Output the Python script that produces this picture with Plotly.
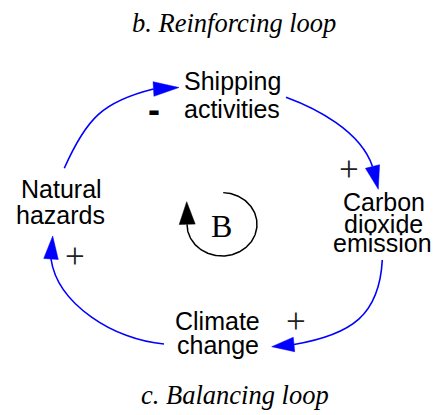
import numpy as np
import plotly.graph_objects as go

# ---------------- content ----------------
title_top = "b. Reinforcing loop"
title_bottom = "c. Balancing loop"
shipping_lines = ["Shipping", "activities"]
carbon_lines = ["Carbon", "dioxide", "emission"]
climate_lines = ["Climate", "change"]
hazard_lines = ["Natural", "hazards"]
link_polarity = ["-", "+", "+", "+"]   # hazards->shipping, shipping->CO2, CO2->climate, climate->hazards
loop_label = "B"

# ---------------- geometry (pixel space of a 439x415 canvas) ----------------
W, H = 439, 415
shipping_pos = [(232.5, 80.7), (232.0, 108.7)]
carbon_pos = [(383.8, 201.7), (383.0, 223.8), (382.8, 243.3)]
climate_pos = [(217.5, 320.5), (217.5, 345.0)]
hazard_pos = [(61.7, 188.7), (60.8, 215.0)]
polarity_pos = [(153.8, 112.0), (348.5, 172.0), (296.0, 323.9), (75.0, 258.8)]

# cubic Bezier links: P0, P1, P2, back-of-arrowhead, tip
links = [
    [(64.3, 168.3), (86.3, 118.3), (103.0, 101.5), (153.5, 89.0), (179.0, 87.5)],
    [(286.0, 97.3), (316.0, 108.3), (360.5, 131.0), (372.5, 166.5), (378.3, 189.3)],
    [(382.3, 260.0), (379.3, 315.0), (352.0, 334.5), (294.0, 344.5), (271.7, 346.7)],
    [(164.0, 344.0), (114.0, 340.0), (57.5, 304.0), (51.0, 259.0), (52.7, 236.0)],
]

BLUE = "#0000FF"
sans = "Liberation Sans, Arial, sans-serif"
serif = "Liberation Serif, Times New Roman, serif"


def arrowhead(tip, back, half):
    tx, ty = tip
    bx, by = back
    d = np.array([tx - bx, ty - by], dtype=float)
    d /= np.linalg.norm(d)
    n = np.array([-d[1], d[0]])
    b1 = (bx + n[0] * half, by + n[1] * half)
    b2 = (bx - n[0] * half, by - n[1] * half)
    return f"M {tx},{ty} L {b1[0]},{b1[1]} L {b2[0]},{b2[1]} Z"


shapes = []
for p0, p1, p2, p3, tip in links:
    shapes.append(dict(
        type="path", xref="x", yref="y",
        path=f"M {p0[0]},{p0[1]} C {p1[0]},{p1[1]} {p2[0]},{p2[1]} {p3[0]},{p3[1]}",
        line=dict(color=BLUE, width=1.6),
    ))
    shapes.append(dict(
        type="path", xref="x", yref="y", path=arrowhead(tip, p3, 7.3),
        fillcolor=BLUE, line=dict(color=BLUE, width=0.5),
    ))

# loop marker (balancing loop circle arrow)
cx, cy, rx, ry = 222.0, 224.3, 35.0, 31.7
theta = np.radians(np.linspace(-88, 180, 200))
loop_x = cx + rx * np.cos(theta)
loop_y = cy + ry * np.sin(theta)
shapes.append(dict(
    type="path", xref="x", yref="y",
    path=arrowhead((186.7, 201.7), (187.2, 224.3), 8.0),
    fillcolor="black", line=dict(color="black", width=0.5),
))

fig = go.Figure()
fig.add_trace(go.Scatter(x=loop_x, y=loop_y, mode="lines",
                         line=dict(color="black", width=1.5),
                         hoverinfo="skip", showlegend=False))

annotations = []


def add_text(txt, x, y, font):
    annotations.append(dict(text=txt, x=x, y=y, xref="x", yref="y",
                            showarrow=False, xanchor="center", yanchor="middle",
                            font=font))


node_font = dict(family=sans, size=25, color="black")
for lines, pos in [(shipping_lines, shipping_pos), (carbon_lines, carbon_pos),
                   (climate_lines, climate_pos), (hazard_lines, hazard_pos)]:
    for t, (x, y) in zip(lines, pos):
        add_text(t, x, y, node_font)

for sign, (x, y) in zip(link_polarity, polarity_pos):
    if sign == "-":
        add_text("<b>-</b>", x, y - 2.5, dict(family=sans, size=36, color="black"))
    else:
        add_text(sign, x, y - 2.8, dict(family=serif, size=35, color="#222222"))

add_text(loop_label, 221.7, 225.5, dict(family=serif, size=32, color="black"))
add_text(f"<i>{title_top}</i>", 234.2, 23.0, dict(family=serif, size=26.5, color="black"))
add_text(f"<i>{title_bottom}</i>", 235.0, 394.8, dict(family=serif, size=26.5, color="black"))

fig.update_layout(
    width=W, height=H,
    margin=dict(l=0, r=0, t=0, b=0),
    paper_bgcolor="white", plot_bgcolor="white",
    xaxis=dict(range=[0, W], visible=False, fixedrange=True),
    yaxis=dict(range=[H, 0], visible=False, fixedrange=True),
    shapes=shapes, annotations=annotations, showlegend=False,
)

fig.write_html(
    "out.html",
    config=dict(displayModeBar=False),
    post_script="document.body.style.margin='0';document.body.style.padding='0';"
                "document.body.style.overflow='hidden';",
)
